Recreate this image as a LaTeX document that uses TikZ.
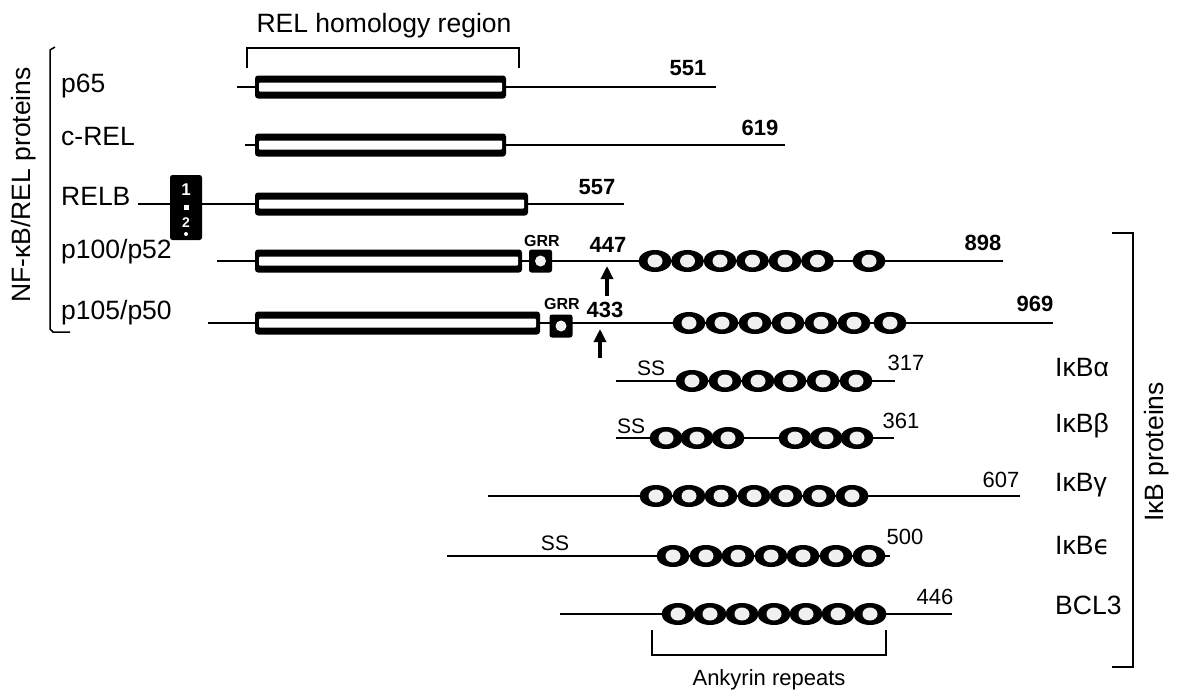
\documentclass[tikz,border=0pt]{standalone}
\usepackage{fontspec}
\setmainfont{Liberation Sans}
\newfontfamily\dvs{DejaVu Sans}
\usetikzlibrary{arrows.meta}
\newcommand\ankov[2]{\fill[black] (#1,#2) ellipse [x radius=16.5, y radius=11];\fill[gray!12] (#1,#2) ellipse [x radius=7.5, y radius=6.5];}
\newcommand\homolbar[3]{\fill[black, rounded corners=3pt] (#1,#3-11.5) rectangle (#2,#3+11.5);\fill[white, rounded corners=1pt] (#1+4,#3-4.5) rectangle (#2-4,#3+4.5);}
\newcommand\grrbox[2]{\fill[black, rounded corners=2.5pt] (#1-11.5,#2-11.5) rectangle (#1+11.5,#2+11.5);\fill[gray!10] (#1,#2) circle [radius=5.5];}
\begin{document}
\begin{tikzpicture}[x=1pt,y=-1pt,
  prot/.style={line width=2.6pt},
  brk/.style={line width=1.5pt},
  lab/.style={font=\fontsize{26.5}{26.5}\selectfont, inner sep=0pt, anchor=west},
  num/.style={font=\fontsize{22}{22}\selectfont\bfseries, inner sep=0pt},
  numr/.style={font=\fontsize{22}{22}\selectfont, inner sep=0pt},
  grr/.style={font=\fontsize{16}{16}\selectfont\bfseries, inner sep=0pt},
  ss/.style={font=\fontsize{21}{21}\selectfont, inner sep=0pt},
  ttl/.style={font=\fontsize{26.5}{26.5}\selectfont, inner sep=0pt},
  cut/.style={line width=3.4pt, -{Triangle[width=12pt,length=13pt]}}]
\useasboundingbox[fill=white] (0,0) rectangle (1186,694);

% titles and brackets
\node[ttl] (relhom) at (384,26) {REL homology region};
\draw[brk] (247,68) -- (247,48) -- (519,48) -- (519,68);
\node[ttl, rotate=90] (nfkb) at (24,185) {NF-κB/REL proteins};
\draw[brk] (55,47) -- (50,50) -- (50,329) -- (53,332) -- (70,332);
\node[ttl, rotate=90] (ikbp) at (1157,452) {IκB proteins};
\draw[brk] (1112,233) -- (1133,233) -- (1133,667) -- (1112,667);
\draw[brk] (652,630) -- (652,655) -- (886,655) -- (886,630);
\node[font=\fontsize{22}{22}\selectfont, inner sep=0pt] (ank) at (769,680) {Ankyrin repeats};

% protein lines
\draw[prot] (237,87) -- (716,87);
\draw[prot] (245,145) -- (785,145);
\draw[prot] (138,204) -- (624,204);
\draw[prot] (217,261) -- (1003,261);
\draw[prot] (208,323) -- (1053,323);
\draw[prot] (616,381) -- (895,381);
\draw[prot] (616,438) -- (894,438);
\draw[prot] (488,496) -- (1020,496);
\draw[prot] (447,556) -- (890,556);
\draw[prot] (560,614) -- (952,614);

% REL homology bars
\homolbar{255}{506}{87}
\homolbar{255}{506}{145}
\homolbar{255}{528}{204}
\homolbar{255}{522}{261}
\homolbar{255}{540}{323}

% RELB box
\fill[black, rounded corners=2.5pt] (170,175) rectangle (202,240);
\node[font=\fontsize{17}{17}\selectfont\bfseries, text=white, inner sep=0pt] (one) at (186,190) {1};
\fill[white] (184,205) rectangle (189,210);
\node[font=\fontsize{14}{14}\selectfont\bfseries, text=white, inner sep=0pt] (two) at (186,223) {2};
\fill[white] (186,234) circle [radius=2];

% GRR boxes
\grrbox{540.5}{261}
\grrbox{561}{326}
\node[grr] (grr1) at (542,241) {GRR};
\node[grr] (grr2) at (562,304) {GRR};

% cleavage arrows
\coordinate (a1s) at (607,296);
\coordinate (a1e) at (607,266);
\coordinate (a2s) at (600,358);
\coordinate (a2e) at (600,329);
\draw[cut] (a1s) -- (a1e);
\draw[cut] (a2s) -- (a2e);

% ankyrin repeats
\foreach \x in {655,687.5,720,752.5,785,817.5,869} {\ankov{\x}{261}}
\foreach \x in {689,722,755,788,821,854,890} {\ankov{\x}{323}}
\foreach \x in {692,725,758,790,823,856} {\ankov{\x}{381}}
\foreach \x in {666,697,728,795,826,857} {\ankov{\x}{438}}
\foreach \x in {656,689,721,754,786,819,852} {\ankov{\x}{496}}
\foreach \x in {673,706,738,771,803,836,869} {\ankov{\x}{556}}
\foreach \x in {678,710,742,774,806,838,870} {\ankov{\x}{614}}

% protein names
\node[lab] (p65) at (61,86) {p65};
\node[lab] (crel) at (61,137) {c-REL};
\node[lab] (relb) at (61,196) {RELB};
\node[lab] (p100) at (61,252) {p100/p52};
\node[lab] (p105) at (61,313) {p105/p50};
\node[lab] (ika) at (1055,368) {IκBα};
\node[lab] (ikb) at (1055,426) {IκBβ};
\node[lab] (ikg) at (1055,485) {IκBγ};
\node[lab] (ike) at (1055,546) {IκB{\dvs ϵ}};
\node[lab] (bcl3) at (1055,605) {BCL3};

% lengths
\node[num] (n551) at (688,68) {551};
\node[num] (n619) at (760,128) {619};
\node[num] (n557) at (597,187) {557};
\node[num] (n447) at (608,245) {447};
\node[num] (n433) at (605,310) {433};
\node[num] (n898) at (983,243) {898};
\node[num] (n969) at (1035,304) {969};
\node[numr] (n317) at (906,363) {317};
\node[numr] (n361) at (901,421) {361};
\node[numr] (n607) at (1001,480) {607};
\node[numr] (n500) at (905,537) {500};
\node[numr] (n446) at (935,597) {446};

% SS motifs
\node[ss] (ssa) at (651,368) {SS};
\node[ss] (ssb) at (631,426) {SS};
\node[ss] (sse) at (555,543) {SS};
\end{tikzpicture}
\end{document}
